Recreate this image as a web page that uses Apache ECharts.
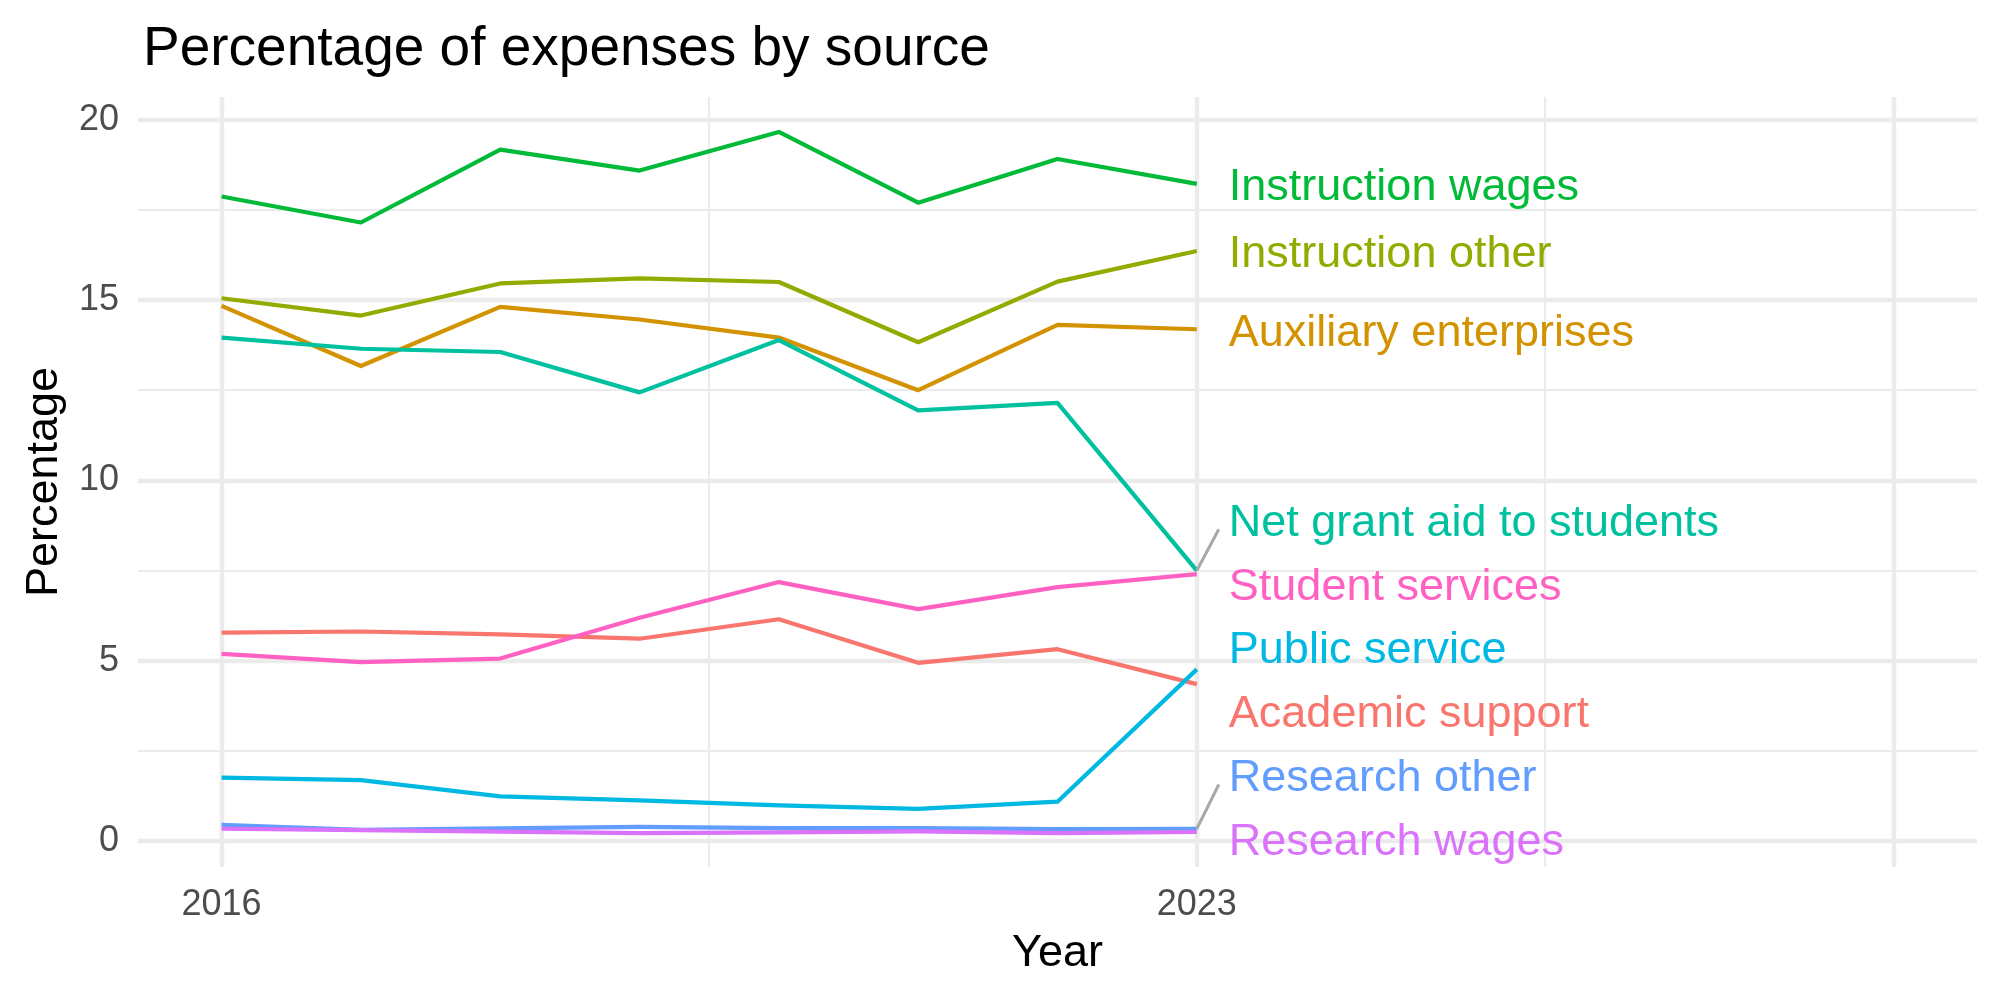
<!DOCTYPE html>
<html><head><meta charset="utf-8">
<script src="https://cdn.jsdelivr.net/npm/echarts@6/dist/echarts.min.js"></script>
<style>html,body{margin:0;padding:0;background:#fff}#c{width:2000px;height:1000px}</style>
</head><body><div id="c"></div>
<script>
// ---------- data ----------
const years = [2016, 2017, 2018, 2019, 2020, 2021, 2022, 2023];
const academicSupport      = [5.78, 5.81, 5.73, 5.61, 6.15, 4.94, 5.32, 4.35];
const auxiliaryEnterprises = [14.84, 13.17, 14.81, 14.46, 13.96, 12.50, 14.31, 14.19];
const instructionOther     = [15.05, 14.57, 15.46, 15.60, 15.50, 13.83, 15.51, 16.36];
const instructionWages     = [17.87, 17.15, 19.17, 18.59, 19.66, 17.70, 18.91, 18.22];
const netGrantAid          = [13.96, 13.65, 13.56, 12.44, 13.89, 11.94, 12.15, 7.50];
const publicService        = [1.76, 1.69, 1.24, 1.13, 0.99, 0.89, 1.09, 4.76];
const researchOther        = [0.45, 0.31, 0.35, 0.39, 0.36, 0.36, 0.33, 0.34];
const researchWages        = [0.34, 0.30, 0.26, 0.22, 0.24, 0.27, 0.22, 0.25];
const studentServices      = [5.19, 4.96, 5.06, 6.19, 7.18, 6.43, 7.04, 7.40];

const seriesNames = ['Academic support', 'Auxiliary enterprises', 'Instruction other', 'Instruction wages',
  'Net grant aid to students', 'Public service', 'Research other', 'Research wages', 'Student services'];
const seriesValues = [academicSupport, auxiliaryEnterprises, instructionOther, instructionWages,
  netGrantAid, publicService, researchOther, researchWages, studentServices];

const xTickLabels = [2016, 2023];
const xMajorGrid = [2016, 2023, 2028];
const xMinorGrid = [2019.5, 2025.5];
const yTickLabels = [0, 5, 10, 15, 20];
const yMinorGrid = [2.5, 7.5, 12.5, 17.5];

// ---------- style ----------
const colors = ['#F8766D', '#D39200', '#93AA00', '#00BA38', '#00C19F', '#00B9E3', '#619CFF', '#DB72FB', '#FF61C3'];
const FONT = 'Liberation Sans, Arial, Helvetica, sans-serif';
const GRID = { left: 138, right: 23, top: 97, bottom: 133 };
const X_MIN = 2015.4, X_MAX = 2028.6;
const Y_MIN = -0.72, Y_MAX = 20.63;
const gridH = 1000 - GRID.top - GRID.bottom;
const pxPerUnit = gridH / (Y_MAX - Y_MIN);

// ---------- simple 1-D label repel (ggrepel-like) ----------
function repel(values, minGapPx, padPx) {
  const gap = minGapPx / pxPerUnit;
  const lo = Y_MIN + padPx / pxPerUnit, hi = Y_MAX - padPx / pxPerUnit;
  const items = values.map((v, i) => ({ i, v })).sort((a, b) => a.v - b.v);
  let clusters = [];
  const place = c => {
    const mean = c.items.reduce((s, it) => s + it.v, 0) / c.items.length;
    let start = mean - (c.items.length - 1) * gap / 2;
    if (start < lo) start = lo;
    const end = start + (c.items.length - 1) * gap;
    if (end > hi) start -= end - hi;
    c.start = start; c.end = start + (c.items.length - 1) * gap;
  };
  items.forEach(it => {
    let c = { items: [it] }; place(c); clusters.push(c);
    while (clusters.length > 1) {
      const a = clusters[clusters.length - 2], b = clusters[clusters.length - 1];
      if (a.end + gap > b.start) {
        clusters.splice(clusters.length - 2, 2);
        const m = { items: a.items.concat(b.items) }; place(m); clusters.push(m);
      } else break;
    }
  });
  const out = new Array(values.length);
  clusters.forEach(c => c.items.forEach((it, k) => { out[it.i] = c.start + k * gap; }));
  return out;
}

const lastX = years[years.length - 1];
const lastVals = seriesValues.map(v => v[v.length - 1]);
const labelY = repel(lastVals, 63.8, 28.7);

// ---------- series ----------
const gridLineData = [];
xMinorGrid.forEach(v => gridLineData.push({ xAxis: v, lineStyle: { width: 2.2 } }));
yMinorGrid.forEach(v => gridLineData.push({ yAxis: v, lineStyle: { width: 2.2 } }));
xMajorGrid.forEach(v => gridLineData.push({ xAxis: v, lineStyle: { width: 4.4 } }));
yTickLabels.forEach(v => gridLineData.push({ yAxis: v, lineStyle: { width: 4.4 } }));

const series = [];
series.push({
  type: 'scatter', name: 'grid', data: [[years[0], 0]], symbolSize: 0, z: 1, silent: true,
  markLine: {
    z: 1, silent: true, symbol: ['none', 'none'], label: { show: false }, animation: false,
    emphasis: { disabled: true },
    lineStyle: { color: '#EBEBEB', type: 'solid', opacity: 1 }, data: gridLineData
  }
});

seriesNames.forEach((name, k) => {
  series.push({
    type: 'line', name, z: 3, showSymbol: false, symbol: 'none',
    data: years.map((yr, i) => [yr, seriesValues[k][i]]),
    lineStyle: { color: colors[k], width: 4.2, join: 'round', cap: 'butt', opacity: 1 },
    itemStyle: { color: colors[k] },
    emphasis: { disabled: true }
  });
});

// repel segments (only when label moved far from its point)
const segData = [];
seriesNames.forEach((name, k) => {
  if (Math.abs(labelY[k] - lastVals[k]) * pxPerUnit > 40) segData.push([lastX, lastVals[k], labelY[k]]);
});
series.push({
  type: 'custom', name: 'segments', z: 4, silent: true,
  data: segData,
  renderItem: (params, api) => {
    const p = api.coord([api.value(0), api.value(1)]);
    const l = api.coord([api.value(0), api.value(2)]);
    const dir = l[1] < p[1] ? 1 : -1;
    return { type: 'line', shape: { x1: p[0], y1: p[1], x2: p[0] + 22, y2: l[1] + 10 * dir },
      style: { stroke: '#A8A8A8', lineWidth: 3, lineCap: 'butt' } };
  }
});

series.push({
  type: 'scatter', name: 'labels', z: 5, symbolSize: 0, silent: true,
  itemStyle: { opacity: 1 },
  emphasis: { disabled: true },
  data: seriesNames.map((name, k) => ({
    value: [lastX, labelY[k]], name,
    label: { color: colors[k] }
  })),
  label: {
    show: true, position: 'right', distance: 32, offset: [0, 4], formatter: p => p.name, opacity: 1,
    fontFamily: FONT, fontSize: 45, align: 'left', verticalAlign: 'middle'
  }
});

const chart = echarts.init(document.getElementById('c'), null, { renderer: 'canvas' });
chart.setOption({
  animation: false,
  backgroundColor: '#ffffff',
  textStyle: { fontFamily: FONT },
  title: {
    text: 'Percentage of expenses by source', left: 138, top: 17,
    textStyle: { fontFamily: FONT, fontSize: 55, fontWeight: 'normal', color: '#000000' }
  },
  grid: { left: GRID.left, right: GRID.right, top: GRID.top, bottom: GRID.bottom, containLabel: false },
  xAxis: {
    type: 'value', min: X_MIN, max: X_MAX,
    name: 'Year', nameLocation: 'middle', nameGap: 64,
    nameTextStyle: { fontFamily: FONT, fontSize: 45, color: '#000000' },
    axisLine: { show: false }, axisTick: { show: false }, splitLine: { show: false },
    axisLabel: { customValues: xTickLabels, fontFamily: FONT, fontSize: 36, color: '#4D4D4D', margin: 20,
      formatter: v => String(v) }
  },
  yAxis: {
    type: 'value', min: Y_MIN, max: Y_MAX,
    name: 'Percentage', nameLocation: 'middle', nameGap: 71, nameRotate: 90,
    nameTextStyle: { fontFamily: FONT, fontSize: 45, color: '#000000' },
    axisLine: { show: false }, axisTick: { show: false }, splitLine: { show: false },
    axisLabel: { customValues: yTickLabels, fontFamily: FONT, fontSize: 36, color: '#4D4D4D', margin: 19,
      formatter: v => String(v) }
  },
  series
});
</script></body></html>
